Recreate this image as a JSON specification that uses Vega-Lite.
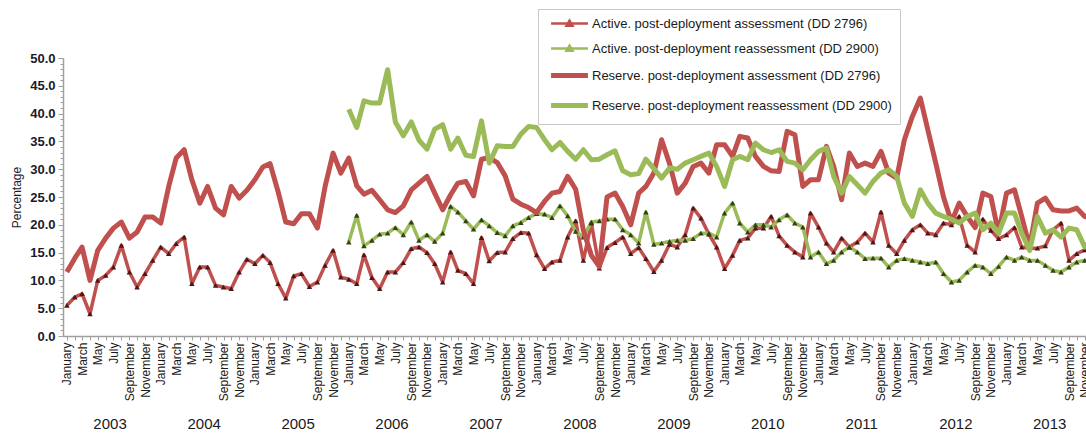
{
  "$schema": "https://vega.github.io/schema/vega-lite/v6.json",
  "width": 1023,
  "height": 278,
  "autosize": {"type": "none"},
  "padding": {"left": 63, "top": 58, "right": 0, "bottom": 101},
  "background": "white",
  "config": {"view": {"stroke": null}, "font": "Liberation Sans", "axis": {"grid": false}},
  "data": {"values": [
    {"d":"2003-01","AA":5.5,"RA":11.5},{"d":"2003-02","AA":7.0,"RA":14.0},{"d":"2003-03","AA":7.6,"RA":16.0},{"d":"2003-04","AA":4.0,"RA":10.0},
    {"d":"2003-05","AA":10.0,"RA":15.4},{"d":"2003-06","AA":10.9,"RA":17.6},{"d":"2003-07","AA":12.4,"RA":19.4},{"d":"2003-08","AA":16.3,"RA":20.5},
    {"d":"2003-09","AA":11.5,"RA":17.6},{"d":"2003-10","AA":8.8,"RA":18.7},{"d":"2003-11","AA":11.2,"RA":21.4},{"d":"2003-12","AA":13.6,"RA":21.4},
    {"d":"2004-01","AA":16.0,"RA":20.3},{"d":"2004-02","AA":14.8,"RA":26.9},{"d":"2004-03","AA":16.6,"RA":32.0},{"d":"2004-04","AA":17.8,"RA":33.5},
    {"d":"2004-05","AA":9.4,"RA":28.1},{"d":"2004-06","AA":12.4,"RA":23.9},{"d":"2004-07","AA":12.4,"RA":26.9},{"d":"2004-08","AA":9.1,"RA":23.0},
    {"d":"2004-09","AA":8.8,"RA":21.8},{"d":"2004-10","AA":8.5,"RA":26.9},{"d":"2004-11","AA":11.5,"RA":24.8},{"d":"2004-12","AA":13.8,"RA":26.2},
    {"d":"2005-01","AA":13.0,"RA":28.1},{"d":"2005-02","AA":14.5,"RA":30.4},{"d":"2005-03","AA":13.2,"RA":31.0},{"d":"2005-04","AA":9.4,"RA":26.0},
    {"d":"2005-05","AA":6.8,"RA":20.5},{"d":"2005-06","AA":10.8,"RA":20.2},{"d":"2005-07","AA":11.2,"RA":22.0},{"d":"2005-08","AA":8.9,"RA":22.0},
    {"d":"2005-09","AA":9.7,"RA":19.4},{"d":"2005-10","AA":12.7,"RA":26.9},{"d":"2005-11","AA":15.4,"RA":32.9},{"d":"2005-12","AA":10.6,"RA":29.3},
    {"d":"2006-01","AA":10.2,"RA":32.0,"AR":16.9,"RR":40.8},{"d":"2006-02","AA":9.4,"RA":27.0,"AR":21.7,"RR":37.5},
    {"d":"2006-03","AA":14.6,"RA":25.5,"AR":16.2,"RR":42.3},{"d":"2006-04","AA":10.5,"RA":26.2,"AR":17.2,"RR":41.9},
    {"d":"2006-05","AA":8.5,"RA":24.5,"AR":18.3,"RR":41.9},{"d":"2006-06","AA":11.5,"RA":22.7,"AR":18.5,"RR":47.9},
    {"d":"2006-07","AA":11.5,"RA":22.2,"AR":19.5,"RR":38.5},{"d":"2006-08","AA":13.2,"RA":23.4,"AR":18.2,"RR":36.0},
    {"d":"2006-09","AA":15.7,"RA":26.3,"AR":20.5,"RR":38.5},{"d":"2006-10","AA":16.0,"RA":27.5,"AR":17.2,"RR":35.2},
    {"d":"2006-11","AA":15.0,"RA":28.7,"AR":18.2,"RR":33.6},{"d":"2006-12","AA":13.0,"RA":25.7,"AR":17.0,"RR":37.2},
    {"d":"2007-01","AA":9.7,"RA":22.7,"AR":18.5,"RR":38.0},{"d":"2007-02","AA":15.1,"RA":25.4,"AR":23.3,"RR":33.6},
    {"d":"2007-03","AA":11.8,"RA":27.5,"AR":22.3,"RR":35.6},{"d":"2007-04","AA":11.2,"RA":27.8,"AR":20.7,"RR":32.5},
    {"d":"2007-05","AA":9.4,"RA":25.2,"AR":19.2,"RR":32.3},{"d":"2007-06","AA":17.7,"RA":31.8,"AR":20.9,"RR":38.7},
    {"d":"2007-07","AA":13.5,"RA":32.1,"AR":19.8,"RR":31.1},{"d":"2007-08","AA":15.0,"RA":31.2,"AR":18.6,"RR":34.2},
    {"d":"2007-09","AA":15.1,"RA":28.8,"AR":18.0,"RR":34.1},{"d":"2007-10","AA":17.5,"RA":24.6,"AR":19.8,"RR":34.1},
    {"d":"2007-11","AA":18.6,"RA":23.7,"AR":20.4,"RR":36.3},{"d":"2007-12","AA":18.5,"RA":23.1,"AR":21.3,"RR":37.7},
    {"d":"2008-01","AA":14.6,"RA":22.2,"AR":22.0,"RR":37.5},{"d":"2008-02","AA":12.1,"RA":24.2,"AR":21.9,"RR":35.3},
    {"d":"2008-03","AA":13.3,"RA":25.7,"AR":21.3,"RR":33.5},{"d":"2008-04","AA":13.6,"RA":26.0,"AR":23.4,"RR":34.8},
    {"d":"2008-05","AA":17.8,"RA":28.7,"AR":21.6,"RR":33.2},{"d":"2008-06","AA":20.7,"RA":26.4,"AR":18.8,"RR":31.8},
    {"d":"2008-07","AA":13.6,"RA":19.0,"AR":17.8,"RR":33.5},{"d":"2008-08","AA":20.3,"RA":14.5,"AR":20.5,"RR":31.7},
    {"d":"2008-09","AA":12.2,"RA":12.5,"AR":20.7,"RR":31.8},{"d":"2008-10","AA":15.9,"RA":25.0,"AR":21.0,"RR":32.6},
    {"d":"2008-11","AA":16.8,"RA":25.7,"AR":21.0,"RR":33.3},{"d":"2008-12","AA":17.8,"RA":23.3,"AR":19.1,"RR":29.7},
    {"d":"2009-01","AA":14.8,"RA":20.0,"AR":18.2,"RR":29.0},{"d":"2009-02","AA":15.9,"RA":25.7,"AR":16.7,"RR":29.2},
    {"d":"2009-03","AA":13.9,"RA":26.9,"AR":22.3,"RR":31.8},{"d":"2009-04","AA":11.6,"RA":29.3,"AR":16.5,"RR":30.1},
    {"d":"2009-05","AA":13.6,"RA":35.3,"AR":16.7,"RR":28.4},{"d":"2009-06","AA":16.5,"RA":31.0,"AR":17.0,"RR":30.2},
    {"d":"2009-07","AA":16.0,"RA":25.7,"AR":17.2,"RR":30.0},{"d":"2009-08","AA":18.2,"RA":27.5,"AR":17.2,"RR":31.1},
    {"d":"2009-09","AA":23.0,"RA":30.5,"AR":17.5,"RR":31.7},{"d":"2009-10","AA":21.2,"RA":31.1,"AR":18.5,"RR":32.3},
    {"d":"2009-11","AA":18.3,"RA":29.3,"AR":18.5,"RR":32.9},{"d":"2009-12","AA":16.0,"RA":34.4,"AR":17.8,"RR":30.5},
    {"d":"2010-01","AA":12.1,"RA":34.4,"AR":22.1,"RR":26.9},{"d":"2010-02","AA":14.5,"RA":32.3,"AR":23.9,"RR":31.7},
    {"d":"2010-03","AA":17.2,"RA":35.9,"AR":20.3,"RR":32.3},{"d":"2010-04","AA":17.6,"RA":35.6,"AR":18.7,"RR":31.7},
    {"d":"2010-05","AA":19.4,"RA":32.3,"AR":20.0,"RR":34.7},{"d":"2010-06","AA":19.4,"RA":30.5,"AR":20.0,"RR":33.5},
    {"d":"2010-07","AA":21.5,"RA":29.7,"AR":19.6,"RR":33.0},{"d":"2010-08","AA":18.0,"RA":29.6,"AR":20.9,"RR":33.5},
    {"d":"2010-09","AA":16.3,"RA":36.8,"AR":21.8,"RR":31.4},{"d":"2010-10","AA":15.1,"RA":36.2,"AR":20.3,"RR":31.1},
    {"d":"2010-11","AA":14.2,"RA":26.9,"AR":19.6,"RR":29.9},{"d":"2010-12","AA":22.1,"RA":28.1,"AR":14.2,"RR":31.7},
    {"d":"2011-01","AA":19.6,"RA":28.1,"AR":15.1,"RR":33.2},{"d":"2011-02","AA":16.7,"RA":34.1,"AR":13.0,"RR":33.8},
    {"d":"2011-03","AA":15.1,"RA":30.5,"AR":13.6,"RR":28.7},{"d":"2011-04","AA":17.6,"RA":24.5,"AR":15.1,"RR":25.7},
    {"d":"2011-05","AA":16.0,"RA":32.9,"AR":16.0,"RR":28.7},{"d":"2011-06","AA":16.9,"RA":30.5,"AR":15.1,"RR":27.2},
    {"d":"2011-07","AA":18.5,"RA":31.1,"AR":13.9,"RR":25.7},{"d":"2011-08","AA":16.9,"RA":30.5,"AR":14.0,"RR":27.8},
    {"d":"2011-09","AA":22.3,"RA":33.2,"AR":14.0,"RR":29.3},{"d":"2011-10","AA":16.3,"RA":29.3,"AR":12.4,"RR":29.9},
    {"d":"2011-11","AA":14.8,"RA":28.4,"AR":13.6,"RR":28.7},{"d":"2011-12","AA":17.2,"RA":35.3,"AR":13.9,"RR":23.9},
    {"d":"2012-01","AA":19.1,"RA":39.5,"AR":13.6,"RR":21.5},{"d":"2012-02","AA":20.0,"RA":42.8,"AR":13.3,"RR":26.3},
    {"d":"2012-03","AA":18.5,"RA":37.1,"AR":13.0,"RR":23.9},{"d":"2012-04","AA":18.2,"RA":31.1,"AR":13.3,"RR":22.1},
    {"d":"2012-05","AA":20.3,"RA":25.0,"AR":11.2,"RR":21.5},{"d":"2012-06","AA":20.0,"RA":20.5,"AR":9.7,"RR":21.0},
    {"d":"2012-07","AA":21.5,"RA":23.9,"AR":10.0,"RR":20.3},{"d":"2012-08","AA":16.3,"RA":21.5,"AR":11.5,"RR":21.5},
    {"d":"2012-09","AA":15.1,"RA":19.5,"AR":12.7,"RR":22.1},{"d":"2012-10","AA":21.0,"RA":25.7,"AR":12.4,"RR":19.1},
    {"d":"2012-11","AA":19.0,"RA":25.1,"AR":11.2,"RR":20.3},{"d":"2012-12","AA":17.5,"RA":18.5,"AR":12.5,"RR":18.5},
    {"d":"2013-01","AA":18.2,"RA":25.7,"AR":14.2,"RR":22.1},{"d":"2013-02","AA":19.5,"RA":26.3,"AR":13.6,"RR":22.1},
    {"d":"2013-03","AA":16.0,"RA":21.5,"AR":14.2,"RR":18.5},{"d":"2013-04","AA":15.8,"RA":16.0,"AR":13.6,"RR":15.4},
    {"d":"2013-05","AA":15.8,"RA":23.9,"AR":13.6,"RR":21.5},{"d":"2013-06","AA":16.2,"RA":24.8,"AR":12.7,"RR":18.5},
    {"d":"2013-07","AA":19.1,"RA":22.7,"AR":11.8,"RR":19.1},{"d":"2013-08","AA":20.3,"RA":22.5,"AR":11.5,"RR":17.8},
    {"d":"2013-09","AA":13.6,"RA":22.5,"AR":12.4,"RR":19.4},{"d":"2013-10","AA":14.8,"RA":23.0,"AR":13.3,"RR":19.1},
    {"d":"2013-11","AA":15.5,"RA":21.5,"AR":13.6,"RR":16.0},{"d":"2013-12","AA":15.0,"RA":21.0,"AR":13.5,"RR":17.5}
  ]},
  "transform": [
    {"fold": ["AA", "AR", "RA", "RR"], "as": ["s", "v"]},
    {"filter": "isValid(datum.v)"}
  ],
  "resolve": {"axis": {"x": "independent", "y": "independent"}},
  "layer": [
    {
      "transform": [{"filter": "datum.s === 'AA' || datum.s === 'AR'"}],
      "mark": {"type": "line", "strokeWidth": 3.5, "strokeJoin": "round", "clip": true},
      "encoding": {
        "x": {
          "field": "d", "type": "temporal",
          "scale": {"type": "utc", "domain": [{"year": 2002, "month": 12, "date": 17, "utc": true}, {"year": 2013, "month": 11, "date": 6, "utc": true}]},
          "axis": {
            "orient": "bottom", "title": null,
            "tickCount": {"interval": "month", "step": 1},
            "labelExpr": "utcmonth(datum.value) % 2 === 0 ? utcFormat(datum.value, '%B') : ''",
            "labelAngle": 270, "labelOverlap": false, "labelFlush": false, "labelBound": false,
            "labelFontSize": 12, "labelColor": "#1a1a1a", "labelPadding": 2,
            "tickSize": 4, "tickColor": "#a0a0a0", "domainColor": "#a0a0a0", "domainWidth": 1.5
          }
        },
        "y": {
          "field": "v", "type": "quantitative",
          "scale": {"domain": [0, 50], "nice": false},
          "axis": {
            "orient": "left", "tickCount": 10, "format": ".1f",
            "labelFontSize": 13, "labelFontWeight": "bold", "labelColor": "#1a1a2a", "labelPadding": 3,
            "tickSize": 5, "tickColor": "#a0a0a0", "domainColor": "#a0a0a0", "domainWidth": 1.5,
            "title": "Percentage", "titleFontSize": 12, "titleFontWeight": "normal", "titleColor": "#1a1a2a", "titlePadding": 6
          }
        },
        "color": {
          "field": "s", "type": "nominal",
          "scale": {"domain": ["AA", "AR", "RA", "RR"], "range": ["#c0504d", "#9bbb59", "#c0504d", "#9bbb59"]},
          "legend": {
            "orient": "none", "legendX": 475, "legendY": -49, "title": null, "direction": "vertical",
            "labelExpr": "{'AA': 'Active. post-deployment assessment (DD 2796)', 'AR': 'Active. post-deployment reassessment (DD 2900)', 'RA': 'Reserve. post-deployment assessment (DD 2796)', 'RR': 'Reserve. post-deployment reassessment (DD 2900)'}[datum.value]",
            "labelFontSize": 13, "labelColor": "#1a1a1a", "labelLimit": 400,
            "symbolSize": 85, "symbolOffset": 17, "labelOffset": 16, "rowPadding": 9,
            "padding": 8, "strokeColor": "#c8c8c8", "fillColor": "white",
            "encode": {"symbols": {"update": {
              "shape": {"signal": "datum.value === 'AA' || datum.value === 'AR' ? 'M-4,0H4M-0.65,0.5L0,-0.6L0.65,0.5Z' : 'M-4,0H4'"},
              "strokeWidth": {"signal": "datum.value === 'AA' || datum.value === 'AR' ? 2.5 : 5"},
              "fill": {"signal": "datum.value === 'AA' ? '#4a1818' : datum.value === 'AR' ? '#34401a' : 'transparent'"}
            }}}
          }
        }
      }
    },
    {
      "transform": [{"filter": "datum.s === 'AA' || datum.s === 'AR'"}],
      "mark": {"type": "point", "shape": "triangle-up", "filled": true, "size": 30, "opacity": 1, "clip": true},
      "encoding": {
        "x": {
          "field": "d", "type": "temporal",
          "axis": {
            "orient": "bottom", "title": null, "domain": false, "ticks": false,
            "values": [
              {"year": 2003, "month": 6, "date": 16, "utc": true}, {"year": 2004, "month": 6, "date": 16, "utc": true},
              {"year": 2005, "month": 6, "date": 16, "utc": true}, {"year": 2006, "month": 6, "date": 16, "utc": true},
              {"year": 2007, "month": 6, "date": 16, "utc": true}, {"year": 2008, "month": 6, "date": 16, "utc": true},
              {"year": 2009, "month": 6, "date": 16, "utc": true}, {"year": 2010, "month": 6, "date": 16, "utc": true},
              {"year": 2011, "month": 6, "date": 16, "utc": true}, {"year": 2012, "month": 6, "date": 16, "utc": true},
              {"year": 2013, "month": 6, "date": 16, "utc": true}
            ],
            "labelExpr": "utcFormat(datum.value, '%Y')",
            "labelAngle": 0, "labelOverlap": false, "labelFlush": false, "labelBound": false,
            "labelFontSize": 15, "labelColor": "#1a1a1a", "labelPadding": 80
          }
        },
        "y": {
          "field": "v", "type": "quantitative",
          "axis": {"orient": "left", "tickCount": 50, "labels": false, "domain": false, "tickSize": 3, "tickColor": "#a0a0a0", "title": null}
        },
        "fill": {
          "field": "s", "type": "nominal",
          "scale": {"domain": ["AA", "AR"], "range": ["#4a1818", "#34401a"]},
          "legend": null
        }
      }
    },
    {
      "transform": [{"filter": "datum.s === 'RA' || datum.s === 'RR'"}],
      "mark": {"type": "line", "strokeWidth": 5, "strokeJoin": "round", "clip": true},
      "encoding": {
        "x": {"field": "d", "type": "temporal", "axis": null},
        "y": {"field": "v", "type": "quantitative", "axis": null},
        "color": {"field": "s", "type": "nominal"}
      }
    }
  ]
}
